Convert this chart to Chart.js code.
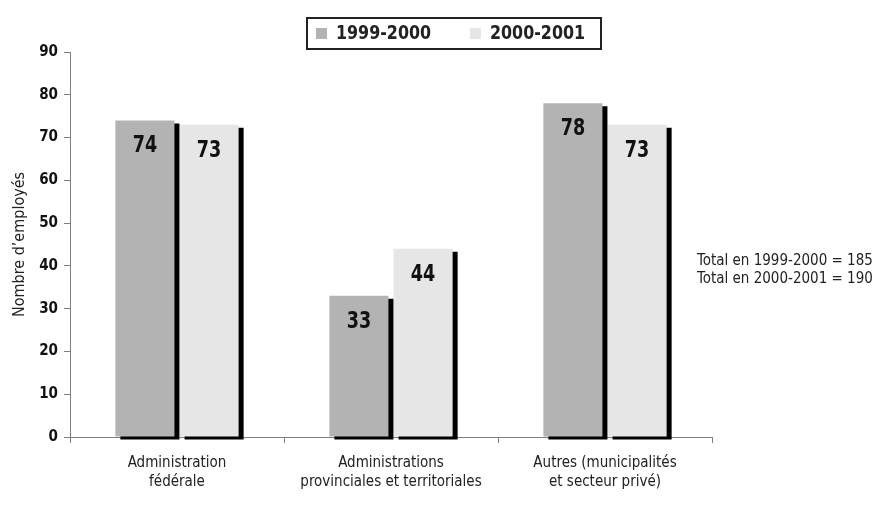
<!DOCTYPE html>
<html>
<head>
<meta charset="utf-8">
<script src="https://cdn.jsdelivr.net/npm/chart.js@4/dist/chart.umd.min.js"></script>
<style>
  html, body { margin: 0; padding: 0; background: #fff; }
  #wrap { width: 896px; height: 522px; }
</style>
</head>
<body>
<div id="wrap"><canvas id="c" width="896" height="522"></canvas></div>
<script>
// Employees by sector, two fiscal years
const categories = [
  ['Administration', 'fédérale'],
  ['Administrations', 'provinciales et territoriales'],
  ['Autres (municipalités', 'et secteur privé)']
];
const seriesNames = ['1999-2000', '2000-2001'];
const values1999 = [74, 33, 78];
const values2000 = [73, 44, 73];
const yTicks = [0, 10, 20, 30, 40, 50, 60, 70, 80, 90];
const totalNotes = ['Total en 1999-2000 = 185', 'Total en 2000-2001 = 190'];

const NARROW = "'Liberation Sans Narrow', 'Arial Narrow', 'DejaVu Sans Condensed', sans-serif";
const colors = ['#b3b3b3', '#e6e6e6'];
const axisGrey = '#7f7f7f';

// Black drop shadow behind each bar
const barShadow = {
  id: 'barShadow',
  beforeDatasetDraw(chart) {
    const ctx = chart.ctx;
    ctx.save();
    ctx.shadowColor = '#000';
    ctx.shadowOffsetX = 5;
    ctx.shadowOffsetY = 3;
    ctx.shadowBlur = 0;
  },
  afterDatasetDraw(chart) {
    chart.ctx.restore();
  }
};

// text squeezed horizontally to look like a condensed face
function narrowText(ctx, text, x, y, sx) {
  ctx.save();
  ctx.translate(x, y);
  ctx.scale(sx, 1);
  ctx.fillText(text, 0, 0);
  ctx.restore();
}

// Value labels, boxed legend and totals note
const extras = {
  id: 'extras',
  afterDatasetsDraw(chart) {
    const ctx = chart.ctx;
    ctx.save();
    ctx.fillStyle = '#111';
    ctx.font = 'bold 23px ' + NARROW;
    ctx.textAlign = 'center';
    ctx.textBaseline = 'middle';
    chart.data.datasets.forEach((ds, i) => {
      chart.getDatasetMeta(i).data.forEach((bar, j) => {
        narrowText(ctx, String(ds.data[j]), bar.x, bar.y + 26, 0.85);
      });
    });

    // legend box
    ctx.lineWidth = 2;
    ctx.strokeStyle = '#222';
    ctx.strokeRect(307, 18, 294, 31);
    ctx.font = 'bold 19px ' + NARROW;
    ctx.textAlign = 'left';
    const items = [{x: 316}, {x: 470}];
    items.forEach((it, i) => {
      ctx.fillStyle = colors[i];
      ctx.fillRect(it.x, 28, 11, 11);
      ctx.fillStyle = '#222';
      narrowText(ctx, seriesNames[i], it.x + 20, 34, 0.93);
    });

    // totals
    ctx.font = '15px ' + NARROW;
    ctx.fillStyle = '#222';
    ctx.fillText(totalNotes[0], 697, 261);
    ctx.fillText(totalNotes[1], 697, 279);
    ctx.restore();
  }
};

new Chart(document.getElementById('c'), {
  type: 'bar',
  data: {
    labels: categories,
    datasets: [
      { label: seriesNames[0], data: values1999, backgroundColor: colors[0], clip: false },
      { label: seriesNames[1], data: values2000, backgroundColor: colors[1], clip: false }
    ]
  },
  options: {
    responsive: false,
    animation: false,
    devicePixelRatio: 1,
    categoryPercentage: 0.6,
    barPercentage: 0.92,
    layout: { padding: { top: 52, right: 184, left: 0, bottom: 0 } },
    plugins: {
      legend: { display: false },
      tooltip: { enabled: false }
    },
    scales: {
      x: {
        grid: { display: true, drawOnChartArea: false, offset: true, color: axisGrey, tickLength: 6 },
        border: { display: true, color: axisGrey, width: 1 },
        ticks: {
          color: '#222',
          font: { family: NARROW, size: 15, lineHeight: 1.25 },
          maxRotation: 0,
          autoSkip: false,
          padding: 11
        },
        afterFit(s) { s.height = 85; }
      },
      y: {
        min: 0,
        max: 90,
        afterBuildTicks(s) { s.ticks = yTicks.map(v => ({ value: v })); },
        grid: { display: true, drawOnChartArea: false, color: axisGrey, tickLength: 6 },
        border: { display: true, color: axisGrey, width: 1 },
        ticks: {
          color: '#111',
          font: { family: NARROW, size: 15, weight: 'bold' },
          padding: 6
        },
        title: {
          display: true,
          text: 'Nombre d’employés',
          color: '#222',
          font: { family: NARROW, size: 16 },
          padding: { top: 10, bottom: 4 }
        },
        afterFit(s) { s.width = 70; }
      }
    }
  },
  plugins: [barShadow, extras]
});
</script>
</body>
</html>
